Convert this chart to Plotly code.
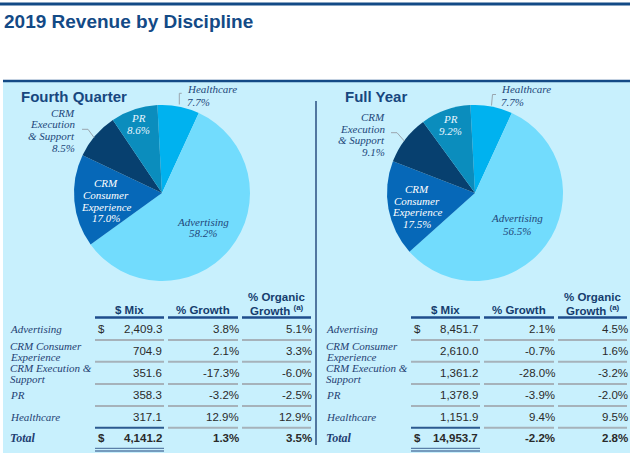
import plotly.graph_objects as go

W, H = 630, 453

# ---------------- data ----------------
categories = ["Advertising", "CRM Consumer Experience", "CRM Execution & Support", "PR", "Healthcare"]
row_label_lines = [["Advertising"], ["CRM Consumer", "Experience"], ["CRM Execution &", "Support"], ["PR"], ["Healthcare"]]
pie_label_lines = [["Advertising"], ["CRM", "Consumer", "Experience"], ["CRM", "Execution", "& Support"], ["PR"], ["Healthcare"]]

q4_mix = [2409.3, 704.9, 351.6, 358.3, 317.1]
q4_growth = [3.8, 2.1, -17.3, -3.2, 12.9]
q4_organic = [5.1, 3.3, -6.0, -2.5, 12.9]
q4_total = [4141.2, 1.3, 3.5]
q4_share = [58.2, 17.0, 8.5, 8.6, 7.7]

fy_mix = [8451.7, 2610.0, 1361.2, 1378.9, 1151.9]
fy_growth = [2.1, -0.7, -28.0, -3.9, 9.4]
fy_organic = [4.5, 1.6, -3.2, -2.0, 9.5]
fy_total = [14953.7, -2.2, 2.8]
fy_share = [56.5, 17.5, 9.1, 9.2, 7.7]

headers = ["$ Mix", "% Growth", ["% Organic", "Growth <sup>(a)</sup>"]]
title_text = "2019 Revenue by Discipline"
panel_titles = ["Fourth Quarter", "Full Year"]

# ---------------- style ----------------
slice_colors = {"Advertising": "#72dcfd", "CRM Consumer Experience": "#0668b8",
                "CRM Execution & Support": "#07406f", "PR": "#0b8dbd", "Healthcare": "#00b2ef"}
pie_order = [4, 0, 1, 2, 3]  # clockwise from 12 o'clock
NAVY = "#134a86"
LABEL = "#22477a"
SANS = "Liberation Sans, Arial, sans-serif"
SERIF = "Liberation Serif, Times New Roman, serif"
PAD = 2  # annotation inner padding compensation


def X(p):
    return p / W


def Y(p):
    return 1 - p / H


fig = go.Figure()
shapes = []
anns = []


def ann(x, y, text, size, color, family, xanchor="left"):
    if xanchor == "left":
        x -= PAD
    elif xanchor == "right":
        x += PAD
    anns.append(dict(x=X(x), y=Y(y), xref="paper", yref="paper", text=text, showarrow=False,
                     xanchor=xanchor, yanchor="middle", borderpad=0,
                     font=dict(size=size, color=color, family=family)))


def line(x0, y0, x1, y1, color, width):
    shapes.append(dict(type="line", xref="paper", yref="paper", x0=X(x0), y0=Y(y0), x1=X(x1), y1=Y(y1),
                       line=dict(color=color, width=width), layer="above"))


def path(pts, color, width):
    d = "M " + " L ".join(f"{X(a)} {Y(b)}" for a, b in pts)
    shapes.append(dict(type="path", xref="paper", yref="paper", path=d,
                       line=dict(color=color, width=width), layer="above"))


# background
shapes.append(dict(type="rect", xref="paper", yref="paper", x0=X(3), x1=X(630), y0=Y(453), y1=Y(82),
                   fillcolor="#c8f0fd", line=dict(width=0), layer="below"))
line(0, 4, 630, 4, NAVY, 3)
line(3, 81, 630, 81, NAVY, 2.5)
line(316, 101, 316, 445, "#2a4f80", 1.5)

ann(5, 21, "<b>" + title_text + "</b>", 19, NAVY, SANS)
ann(22, 97, "<b>" + panel_titles[0] + "</b>", 15, "#17477f", SANS)
ann(346, 97, "<b>" + panel_titles[1] + "</b>", 15, "#17477f", SANS)

# ---------------- pies ----------------
R = 88
for cx, shares in [(162, q4_share), (475, fy_share)]:
    fig.add_trace(go.Pie(
        labels=[categories[i] for i in pie_order],
        values=[shares[i] for i in pie_order],
        marker=dict(colors=[slice_colors[categories[i]] for i in pie_order], line=dict(width=0)),
        sort=False, direction="clockwise", rotation=-3, textinfo="none", hoverinfo="none",
        showlegend=False,
        domain=dict(x=[X(cx - R), X(cx + R)], y=[Y(193 + R), Y(193 - R)]),
    ))

# label placements: (anchor x, line ys, xanchor, color)
pie_label_pos = [
    {0: (203, [221.7, 233.3], "center", LABEL),
     1: (106, [183.3, 195, 206.7, 218], "center", "#ffffff"),
     2: (74, [113, 124.5, 136, 147.7], "right", LABEL),
     3: (138, [118.3, 130], "center", "#e8f6ff"),
     4: (188, [89.3, 102.3], "left", LABEL)},
    {0: (517, [218.3, 231], "center", LABEL),
     1: (417, [189, 200.7, 212.3, 224.3], "center", "#ffffff"),
     2: (384, [116.7, 128.7, 140.5, 152], "right", LABEL),
     3: (450, [118.7, 131], "center", "#e8f6ff"),
     4: (502, [89.3, 101.7], "left", LABEL)},
]
for shares, pos in zip([q4_share, fy_share], pie_label_pos):
    for i in range(len(categories)):
        x, ys, xa, col = pos[i]
        lines = pie_label_lines[i] + [f"{shares[i]:.1f}%"]
        for t, yy in zip(lines, ys):
            ann(x, yy, "<i>" + t + "</i>", 11, col, SERIF, xa)

LEAD = "#9aa6ae"
path([(181.7, 93.3), (179.3, 93.3), (179.3, 104.5)], LEAD, 1)
path([(496, 94.5), (492.5, 94.5), (491.5, 105.5)], LEAD, 1)
path([(82, 129.3), (88, 129.3), (94, 137.5)], LEAD, 1)
path([(391, 132.7), (397, 132.7), (404.3, 141)], LEAD, 1)

# ---------------- tables ----------------
row_y = [329, 351, 373, 395, 417]
total_y = 438
sep_y = [340, 361.7, 384, 406]
GRAY = "#a6b2ba"
VAL = "#2a2a2a"

for dx, mix, gr, org, tot in [(0, q4_mix, q4_growth, q4_organic, q4_total),
                              (316, fy_mix, fy_growth, fy_organic, fy_total)]:
    segs = [(95 + dx, 164 + dx), (168 + dx, 238 + dx), (242 + dx, 311 + dx)]
    right = [161 + dx, 237.7 + dx, 310.7 + dx]
    # headers
    for (a, b), h in zip(segs, headers):
        c = (a + b) / 2
        if isinstance(h, list):
            ann(c, 297, "<b>" + h[0] + "</b>", 11.5, "#163d6e", SANS, "center")
            ann(c, 310, "<b>" + h[1] + "</b>", 11.5, "#163d6e", SANS, "center")
        else:
            ann(c, 310, "<b>" + h + "</b>", 11.5, "#163d6e", SANS, "center")
        line(a, 317.5, b, 317.5, "#1f4e8c", 2.5)
        for sy in sep_y:
            line(a, sy, b, sy, GRAY, 2)
    # rows
    for i in range(len(categories)):
        yy = row_y[i]
        lab = row_label_lines[i]
        if len(lab) == 1:
            ann(11 + dx, yy, "<i>" + lab[0] + "</i>", 11, "#1f3f73", SERIF)
        else:
            ann(11 + dx, yy - 4.8, "<i>" + lab[0] + "</i>", 11, "#1f3f73", SERIF)
            ann(11 + dx, yy + 5.5, "<i>" + lab[1] + "</i>", 11, "#1f3f73", SERIF)
        if i == 0:
            ann(99 + dx, yy, "$", 11.5, VAL, SANS)
        ann(right[0], yy, f"{mix[i]:,.1f}", 11.5, VAL, SANS, "right")
        ann(right[1], yy, f"{gr[i]:.1f}%", 11.5, VAL, SANS, "right")
        ann(right[2], yy, f"{org[i]:.1f}%", 11.5, VAL, SANS, "right")
    # total
    ann(11 + dx, total_y, "<b><i>Total</i></b>", 12, "#1f3f73", SERIF)
    ann(99 + dx, total_y, "<b>$</b>", 11.5, VAL, SANS)
    ann(right[0], total_y, f"<b>{tot[0]:,.1f}</b>", 11.5, VAL, SANS, "right")
    ann(right[1], total_y, f"<b>{tot[1]:.1f}%</b>", 11.5, VAL, SANS, "right")
    ann(right[2], total_y, f"<b>{tot[2]:.1f}%</b>", 11.5, VAL, SANS, "right")
    line(segs[0][0], 427.7, segs[0][1], 427.7, "#2c5a8f", 2)
    for a, b in segs[1:]:
        line(a, 427.7, b, 427.7, GRAY, 2)
    line(segs[0][0], 448.3, segs[0][1], 448.3, "#5a7fa8", 1.3)
    line(segs[0][0], 451, segs[0][1], 451, "#5a7fa8", 1.3)

fig.update_layout(width=W, height=H, autosize=False, margin=dict(l=0, r=0, t=0, b=0),
                  paper_bgcolor="#ffffff", plot_bgcolor="#ffffff",
                  shapes=shapes, annotations=anns, showlegend=False)
fig.write_html("out.html", config={"displayModeBar": False},
               post_script="document.body.style.margin='0';document.body.style.overflow='hidden';")
